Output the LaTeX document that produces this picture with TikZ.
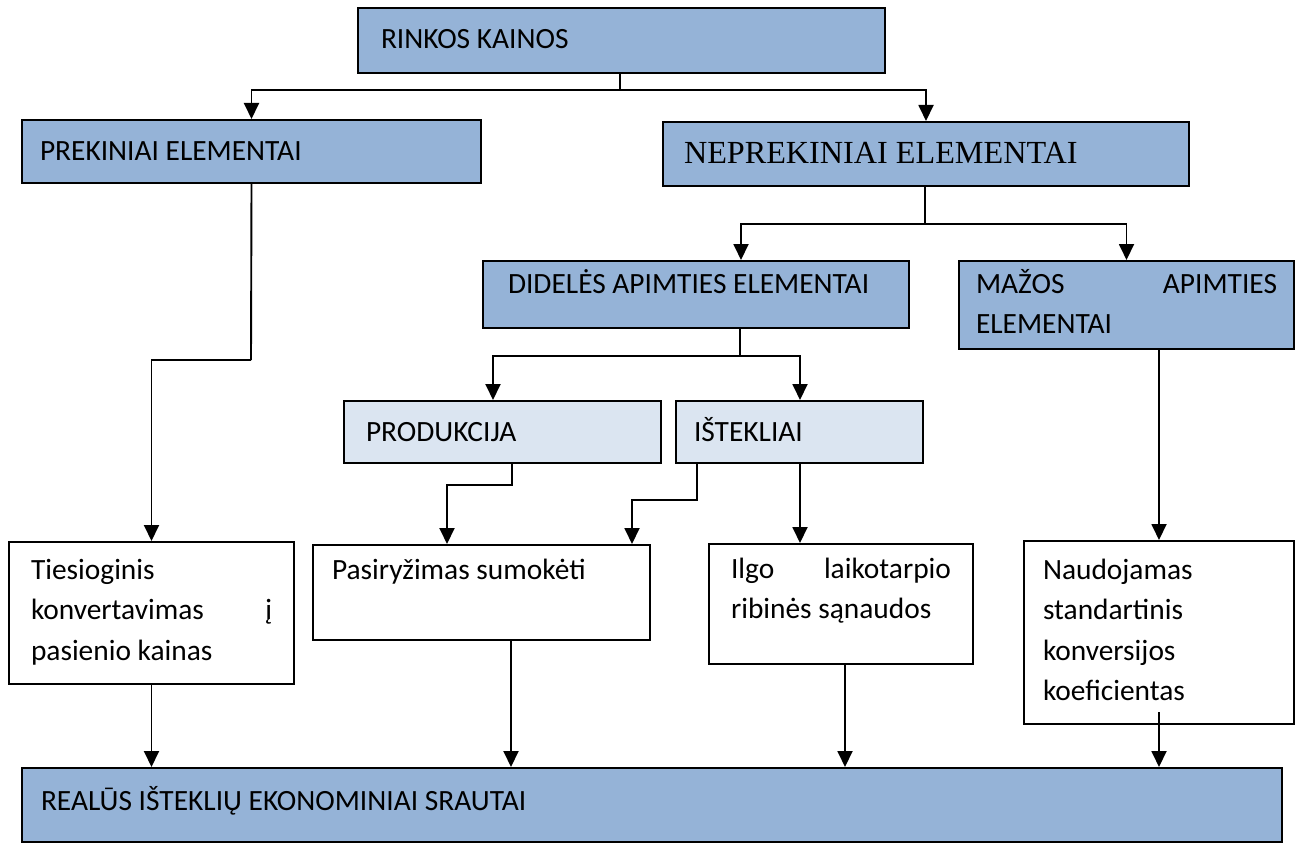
\documentclass[tikz,border=0pt]{standalone}
\usepackage{fontspec}
\setmainfont{Carlito}
\newfontfamily\serifnep{Liberation Serif}
\usetikzlibrary{arrows.meta}
\definecolor{boxblue}{HTML}{95B3D7}
\definecolor{boxlight}{HTML}{DBE5F1}
\tikzset{
  bx/.style={draw=black, line width=2pt, anchor=north west, inner ysep=0pt, align=flush left,
    font=\fontsize{29.4}{40.5}\selectfont},
  bluebox/.style={bx, fill=boxblue},
  lightbox/.style={bx, fill=boxlight},
  whitebox/.style={bx, fill=white},
  conn/.style={line width=1.9pt, draw=black},
  arr/.style={conn, -{Triangle[width=15pt,length=16pt]}},
}
\begin{document}
\begin{tikzpicture}[x=1pt,y=-1pt]
\useasboundingbox (0,0) rectangle (1300,845);
\node[bluebox, inner xsep=23pt, text width=481pt, text height=41pt, text depth=24pt] (rk) at (357,7) {RINKOS KAINOS};
\node[bluebox, inner xsep=18pt, text width=423pt, text height=41pt, text depth=22pt] (pre) at (21,119) {PREKINIAI ELEMENTAI};
\node[bluebox, inner xsep=21pt, text width=484pt, text height=42pt, text depth=22pt, font=\serifnep\fontsize{32.2}{38}\selectfont] (nep) at (662,121) {NEPREKINIAI ELEMENTAI};
\node[bluebox, inner xsep=25pt, text width=376pt, text height=32pt, text depth=35pt] (did) at (482,260) {DIDELĖS APIMTIES ELEMENTAI};
\node[bluebox, inner xsep=17pt, text width=301pt, text height=32pt, text depth=56pt] (maz) at (958,260) {MAŽOS \hfill APIMTIES\\ELEMENTAI};
\node[lightbox, inner xsep=22pt, text width=273pt, text height=40pt, text depth=22pt] (prod) at (343,400) {PRODUKCIJA};
\node[lightbox, inner xsep=18pt, text width=211pt, text height=40pt, text depth=22pt] (ist) at (675,400) {IŠTEKLIAI};
\node[whitebox, inner xsep=22pt, text width=241pt, text height=37pt, text depth=105pt] (ties) at (8,541) {Tiesioginis\\konvertavimas \hfill į\\pasienio kainas};
\node[whitebox, inner xsep=19pt, text width=299pt, text height=34pt, text depth=61pt] (pas) at (312,544) {Pasiryžimas sumokėti};
\node[whitebox, inner xsep=22pt, text width=220pt, text height=34pt, text depth=86pt] (ilgo) at (708,543) {Ilgo \hfill laikotarpio\\ribinės sąnaudos};
\node[whitebox, inner xsep=19pt, text width=232pt, text height=38pt, text depth=145pt] (naud) at (1023,540) {Naudojamas\\standartinis\\konversijos\\koeficientas};
\node[bluebox, inner xsep=19pt, text width=1222pt, text height=42pt, text depth=32pt] (real) at (21,767) {REALŪS IŠTEKLIŲ EKONOMINIAI SRAUTAI};
% junction coordinates
\coordinate (j1) at (620,90);
\coordinate (j2) at (925,224);
\coordinate (j3) at (740,356);
\coordinate (j4) at (251,360);
\coordinate (didin) at ([xshift=259pt]did.north west);
\coordinate (prodin) at ([xshift=150pt]prod.north west);
\coordinate (istin) at ([xshift=125pt]ist.north west);
\coordinate (prodout) at ([xshift=169pt]prod.south west);
\coordinate (istout1) at ([xshift=22pt]ist.south west);
\coordinate (istout2) at ([xshift=125pt]ist.south west);
\coordinate (pasin1) at ([xshift=135pt]pas.north west);
\coordinate (pasin2) at ([xshift=320pt]pas.north west);
\coordinate (ilgoin) at (istout2 |- ilgo.north);
\coordinate (pasout) at ([xshift=199pt]pas.south west);
\coordinate (ilgoout) at ([xshift=137pt]ilgo.south west);
\coordinate (naudout) at ([yshift=13pt]naud.south);
% connectors
\draw[conn] (rk.south -| j1) -- (j1);
\draw[arr] (j1) -| (pre.north);
\draw[arr] (j1) -| (nep.north);
\draw[conn] (nep.south -| j2) -- (j2);
\draw[arr] (j2) -| (didin);
\draw[arr] (j2) -| (maz.north);
\draw[conn] (did.south -| j3) -- (j3);
\draw[arr] (j3) -| (prodin);
\draw[arr] (j3) -| (istin);
\draw[conn] (pre.south) -- (j4);
\draw[arr] (j4) -| (ties.north);
\draw[arr] (prodout) -- ++(0,21) -| (pasin1);
\draw[arr] (istout1) -- ++(0,36) -| (pasin2);
\draw[arr] (istout2) -- (ilgoin);
\draw[arr] (maz.south -| naud.north) -- (naud.north);
\draw[arr] (ties.south) -- (real.north -| ties.south);
\draw[arr] (pasout) -- (real.north -| pasout);
\draw[arr] (ilgoout) -- (real.north -| ilgoout);
\draw[arr] (naudout) -- (real.north -| naudout);
\end{tikzpicture}
\end{document}
